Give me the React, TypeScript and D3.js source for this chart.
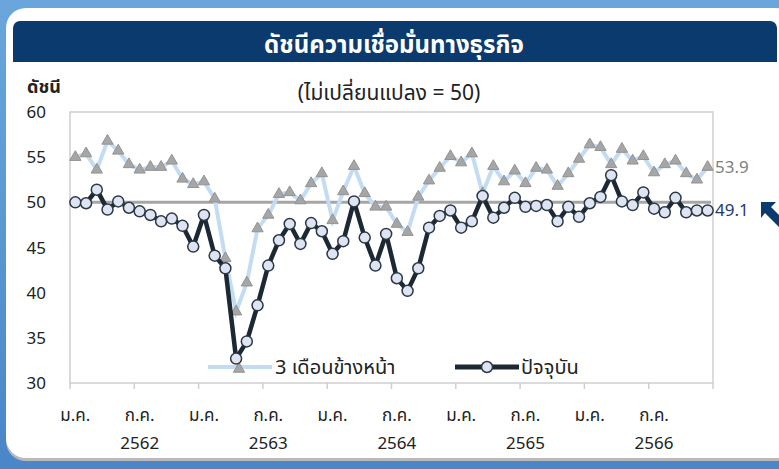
import React from "react";
import * as d3 from "d3";

const current: number[] = [50.0, 49.9, 51.4, 49.2, 50.1, 49.4, 49.0, 48.6, 47.9, 48.2, 47.4, 45.1, 48.6, 44.1, 42.7, 32.7, 34.6, 38.6, 43.0, 45.8, 47.6, 45.4, 47.7, 46.8, 44.3, 45.7, 50.1, 46.1, 43.0, 46.5, 41.6, 40.2, 42.7, 47.2, 48.5, 49.1, 47.2, 47.9, 50.7, 48.3, 49.4, 50.5, 49.5, 49.6, 49.7, 47.9, 49.5, 48.4, 49.9, 50.6, 53.0, 50.1, 49.7, 51.1, 49.3, 48.9, 50.5, 48.9, 49.1, 49.1];
const expected: number[] = [55.0, 55.4, 53.6, 56.8, 55.7, 54.2, 53.6, 53.9, 53.9, 54.6, 52.6, 52.0, 52.3, 50.4, 43.8, 37.9, 41.1, 47.1, 48.6, 50.9, 51.1, 50.2, 52.1, 53.2, 48.0, 51.2, 54.0, 51.0, 49.5, 49.5, 47.6, 46.7, 50.6, 52.4, 53.8, 55.1, 54.4, 55.4, 51.0, 54.0, 52.3, 53.5, 52.1, 53.8, 53.6, 51.8, 53.2, 54.8, 56.4, 56.1, 54.2, 55.9, 54.6, 55.1, 53.3, 54.2, 54.6, 53.2, 52.5, 53.9];
const monthLabels: string[] = ["ม.ค.", "ก.ค.", "ม.ค.", "ก.ค.", "ม.ค.", "ก.ค.", "ม.ค.", "ก.ค.", "ม.ค.", "ก.ค."];
const years: string[] = ["2562", "2563", "2564", "2565", "2566"];
const yTicks: number[] = [30, 35, 40, 45, 50, 55, 60];
const title = "ดัชนีความเชื่อมั่นทางธุรกิจ";
const subtitle = "(ไม่เปลี่ยนแปลง = 50)";
const yTitle = "ดัชนี";
const seriesNames: string[] = ["3 เดือนข้างหน้า", "ปัจจุบัน"];
const neutral = 50;

const FONT = "Tahoma, 'Noto Sans Thai', 'Noto Sans', 'DejaVu Sans', sans-serif";

export default function App() {
  const W = 779, H = 469;
  const x = d3.scaleLinear().domain([0, 60]).range([70, 713]);
  const y = d3.scaleLinear().domain([30, 60]).range([383, 112]);
  const line = d3.line<number>().x((_, i) => x(i + 0.5)).y((d) => y(d));
  const tri = d3.symbol().type(d3.symbolTriangle).size(55)() as string;
  const tickPos = d3.range(0, 61, 6);
  const last = current.length - 1;

  return (
    <svg width={W} height={H} style={{ position: "absolute", left: 0, top: 0, display: "block" }} fontFamily={FONT}>
      <defs>
        <linearGradient id="bg" x1="0" y1="0" x2="0" y2="1">
          <stop offset="0" stopColor="#6aa6dc" />
          <stop offset="1" stopColor="#4a86c8" />
        </linearGradient>
      </defs>
      <rect x={0} y={0} width={W} height={H} fill="url(#bg)" />
      <rect x={6} y={11} width={790} height={450} rx={20} fill="#b9b9b9" />
      <rect x={6} y={8} width={790} height={450} rx={20} fill="#ffffff" />
      <rect x={13} y={21} width={764} height={41} rx={7} fill="#0b3a6e" />
      <rect x={13} y={40} width={764} height={22} fill="#0b3a6e" />
      <text x={394} y={53} textAnchor="middle" fill="#ffffff" fontSize={24} fontWeight="bold">{title}</text>
      <text x={27} y={93} fill="#222" fontSize={18} fontWeight="bold">{yTitle}</text>
      <text x={389} y={100} textAnchor="middle" fill="#222" fontSize={21}>{subtitle}</text>

      {/* plot frame */}
      <rect x={70} y={y(60)} width={643} height={y(30) - y(60)} fill="none" stroke="#cfcfcf" strokeWidth={1.5} />
      {tickPos.map((t) => (
        <line key={t} x1={x(t)} x2={x(t)} y1={383} y2={389} stroke="#cfcfcf" strokeWidth={1.5} />
      ))}
      {yTicks.map((t) => (
        <text key={t} x={46} y={y(t) + 6} textAnchor="end" fill="#222" fontSize={17}>{t}</text>
      ))}
      {monthLabels.map((m, k) => (
        <text key={k} x={x(k * 6 + 0.5)} y={421} textAnchor="middle" fill="#222" fontSize={17}>{m}</text>
      ))}
      {years.map((yr, k) => (
        <text key={yr} x={x(k * 12 + 6.5)} y={449} textAnchor="middle" fill="#222" fontSize={17}>{yr}</text>
      ))}

      {/* neutral line */}
      <line x1={70} x2={711} y1={y(neutral)} y2={y(neutral)} stroke="#a6a6a6" strokeWidth={3} />

      {/* legend */}
      <line x1={208} x2={272} y1={367} y2={367} stroke="#c3dcf3" strokeWidth={4} />
      <path d={tri} transform={`translate(239,369)`} fill="#a6a6a6" stroke="#939393" strokeWidth={1} />
      <text x={275} y={374} fill="#222" fontSize={20}>{seriesNames[0]}</text>
      <line x1={455} x2={519} y1={367} y2={367} stroke="#1c2833" strokeWidth={5} />
      <circle cx={487} cy={367} r={5.5} fill="#dfe4f2" stroke="#2c3844" strokeWidth={1.5} />
      <text x={521} y={374} fill="#222" fontSize={20}>{seriesNames[1]}</text>

      {/* expected series */}
      <path d={line(expected) as string} fill="none" stroke="#c3dcf3" strokeWidth={4} />
      {expected.map((v, i) => (
        <path key={i} d={tri} transform={`translate(${x(i + 0.5)},${y(v)})`} fill="#a6a6a6" stroke="#939393" strokeWidth={1} />
      ))}

      {/* current series */}
      <path d={line(current) as string} fill="none" stroke="#1c2833" strokeWidth={4.5} strokeLinejoin="round" />
      {current.map((v, i) => (
        <circle key={i} cx={x(i + 0.5)} cy={y(v)} r={5.5} fill="#dfe4f2" stroke="#2c3844" strokeWidth={1.5} />
      ))}

      <text x={715} y={y(expected[last]) + 6} fill="#7f7f7f" fontSize={17}>{expected[last].toFixed(1)}</text>
      <text x={715} y={y(current[last]) + 6} fill="#1f3a6e" fontSize={17}>{current[last].toFixed(1)}</text>

      {/* arrow */}
      <path d="M761,202 L776,202 L771,207 L790,226 L784,232 L765,213 L761,218 Z" fill="#0b3a6e" />
    </svg>
  );
}
